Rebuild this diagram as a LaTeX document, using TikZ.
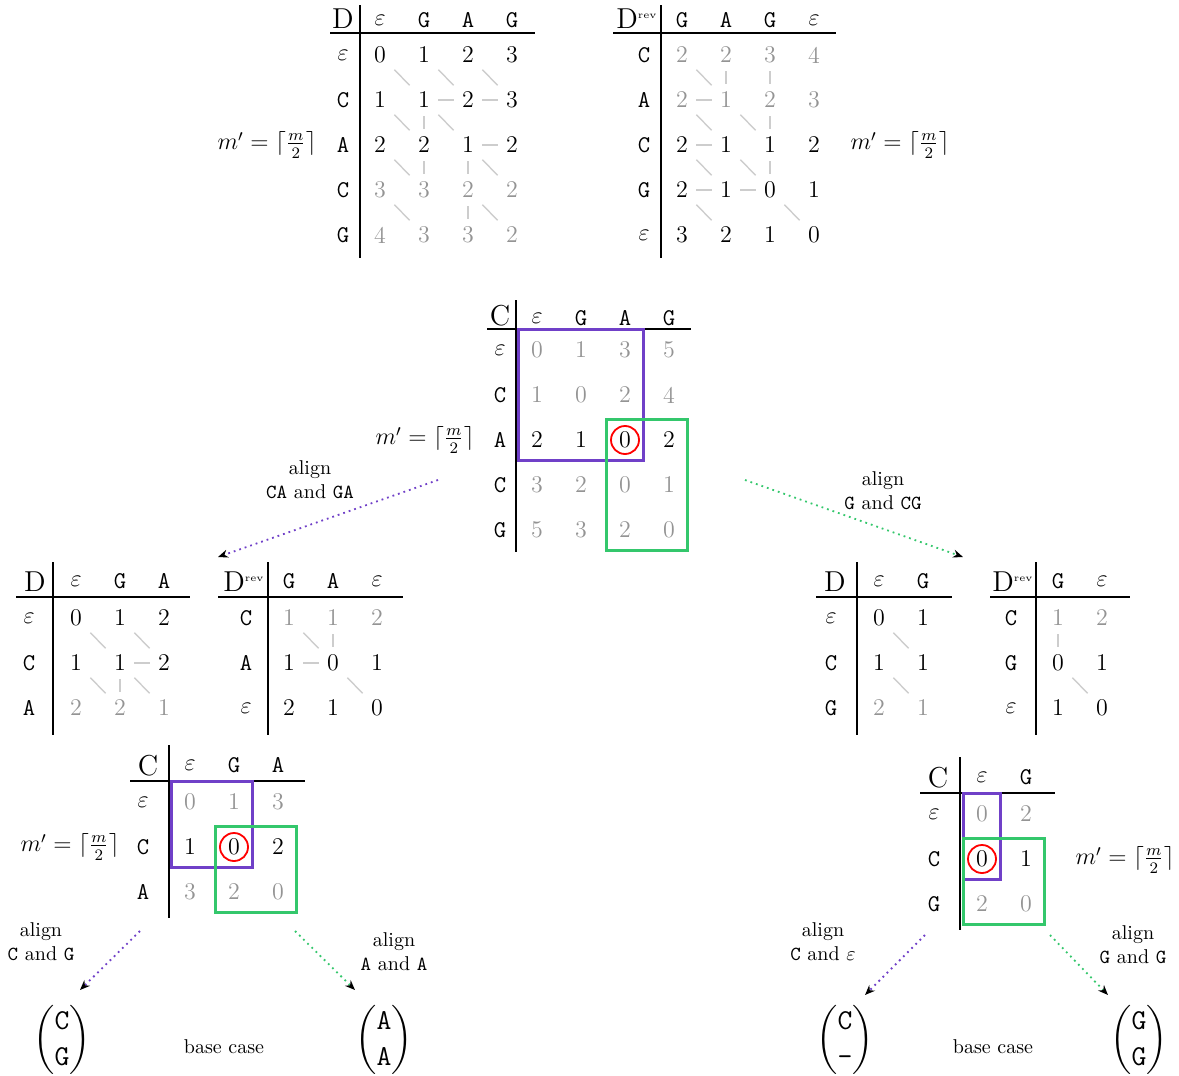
\documentclass[tikz,border=0pt]{standalone}
\usepackage{amsmath}
\usepackage{tikz}
\usetikzlibrary{arrows.meta,fit}
\definecolor{splitpurple}{RGB}{112,64,200}
\definecolor{splitgreen}{RGB}{52,199,108}
\definecolor{traceline}{RGB}{205,205,205}
\colorlet{faded}{black!42}

\begin{document}
\begin{tikzpicture}[x=0.5pt, y=-0.5pt,
    num/.style={font=\large, minimum width=14pt, minimum height=16pt, inner sep=0pt},
    hdr/.style={font=\large\ttfamily, inner sep=0pt},
    corner/.style={font=\Large, inner sep=0pt},
    mlabel/.style={font=\large, inner sep=0pt},
    rule/.style={line width=0.9pt},
    trace/.style={traceline, line width=0.7pt},
    upper/.style={draw=splitpurple, line width=1.4pt, inner sep=2pt},
    lower/.style={draw=splitgreen, line width=1.4pt, inner sep=2pt},
    pick/.style={draw=red, circle, line width=0.9pt, minimum size=14pt, inner sep=0pt},
    recurse/.style={dotted, line width=0.9pt, -{Stealth[black, length=5pt, width=4pt]}},
    note/.style={align=center, font=\normalsize},
    base/.style={font=\Large}]
    \useasboundingbox (0,0) rectangle (1179,1076);

    % forward table D
    \draw[rule] (360,5) -- (360,258);
    \draw[rule] (330,33) -- (535,33);
    \node[corner] (fd) at (343,19) {D};
    \foreach \h [count=\c] in {$\varepsilon$,G,A,G}
        \node[hdr] (fd-h\c) at ({380+44*(\c-1)},20) {\h};
    \foreach \h [count=\r] in {$\varepsilon$,C,A,C,G}
        \node[hdr] (fd-v\r) at (343,{55+45*(\r-1)}) {\h};
    \foreach \row [count=\r] in {{0,1,2,3},{1,1,2,3},{2,2,1,2},{3,3,2,2},{4,3,3,2}}
        \foreach \v [count=\c] in \row {
            \ifnum\r>3 \def\tone{faded}\else\def\tone{black}\fi
            \node[num, text=\tone] (fd-\r-\c) at ({380+44*(\c-1)},{55+45*(\r-1)}) {\v};
        }
    \foreach \a/\b in {1-1/2-2,1-2/2-3,1-3/2-4,2-2/2-3,2-3/2-4,2-1/3-2,2-2/3-2,2-2/3-3,
                       3-3/3-4,3-1/4-2,3-2/4-2,3-3/4-3,3-3/4-4,4-1/5-2,4-3/5-3,4-3/5-4}
        \draw[trace] (fd-\a) -- (fd-\b);
    \node[mlabel] (fd-m) at (267,145) {$m' = \lceil \frac{m}{2} \rceil$};

    % reverse table D^rev
    \draw[rule] (661,5) -- (661,258);
    \draw[rule] (613,33) -- (836,33);
    \node[corner] (rd) at (637,19) {D\textsuperscript{\tiny rev}};
    \foreach \h [count=\c] in {G,A,G,$\varepsilon$}
        \node[hdr] (rd-h\c) at ({682+44*(\c-1)},20) {\h};
    \foreach \h [count=\r] in {C,A,C,G,$\varepsilon$}
        \node[hdr] (rd-v\r) at (644,{55+45*(\r-1)}) {\h};
    \foreach \row [count=\r] in {{2,2,3,4},{2,1,2,3},{2,1,1,2},{2,1,0,1},{3,2,1,0}}
        \foreach \v [count=\c] in \row {
            \ifnum\r<3 \def\tone{faded}\else\def\tone{black}\fi
            \node[num, text=\tone] (rd-\r-\c) at ({682+44*(\c-1)},{55+45*(\r-1)}) {\v};
        }
    \foreach \a/\b in {1-1/2-2,1-2/2-2,1-3/2-3,2-1/2-2,2-1/3-2,2-2/3-3,2-3/3-3,3-1/3-2,
                       3-1/4-2,3-2/4-3,3-3/4-3,4-1/4-2,4-2/4-3,4-1/5-2,4-3/5-4}
        \draw[trace] (rd-\a) -- (rd-\b);
    \node[mlabel] (rd-m) at (900,145) {$m' = \lceil \frac{m}{2} \rceil$};

    % combined cost C
    \draw[rule] (516,300) -- (516,552);
    \draw[rule] (487,329) -- (691,329);
    \node[corner] (cc) at (500,316) {C};
    \foreach \h [count=\c] in {$\varepsilon$,G,A,G}
        \node[hdr] (cc-h\c) at ({537+44*(\c-1)},318) {\h};
    \foreach \h [count=\r] in {$\varepsilon$,C,A,C,G}
        \node[hdr] (cc-v\r) at (500,{350+45*(\r-1)}) {\h};
    \foreach \row [count=\r] in {{0,1,3,5},{1,0,2,4},{2,1,0,2},{3,2,0,1},{5,3,2,0}}
        \foreach \v [count=\c] in \row {
            \ifnum\r=3 \def\tone{black}\else\def\tone{faded}\fi
            \node[num, text=\tone] (cc-\r-\c) at ({537+44*(\c-1)},{350+45*(\r-1)}) {\v};
        }
    \node[upper, fit=(cc-1-1)(cc-3-3)] (cc-up) {};
    \node[lower, fit=(cc-3-3)(cc-5-4)] (cc-lo) {};
    \node[pick] (cc-pick) at (cc-3-3) {};
    \node[mlabel] (cc-m) at (425,440) {$m' = \lceil \frac{m}{2} \rceil$};

    \coordinate (cc-l) at (438,480);
    \coordinate (cc-r) at (745,480);
    \coordinate (sub-l) at (218,557);
    \coordinate (sub-r) at (963,557);
    \draw[recurse, splitpurple] (cc-l) -- (sub-l);
    \draw[recurse, splitgreen] (cc-r) -- (sub-r);
    \node[note] (al-l) at (310,480) {align\\\texttt{CA} and \texttt{GA}};
    \node[note] (al-r) at (883,491) {align\\\texttt{G} and \texttt{CG}};

    % left half: D
    \draw[rule] (53,562) -- (53,735);
    \draw[rule] (16,597) -- (190,597);
    \node[corner] (ld) at (35,582) {D};
    \foreach \h [count=\c] in {$\varepsilon$,G,A}
        \node[hdr] (ld-h\c) at ({76+44*(\c-1)},581) {\h};
    \foreach \h [count=\r] in {$\varepsilon$,C,A}
        \node[hdr] (ld-v\r) at (29,{618+45*(\r-1)}) {\h};
    \foreach \row [count=\r] in {{0,1,2},{1,1,2},{2,2,1}}
        \foreach \v [count=\c] in \row {
            \ifnum\r>2 \def\tone{faded}\else\def\tone{black}\fi
            \node[num, text=\tone] (ld-\r-\c) at ({76+44*(\c-1)},{618+45*(\r-1)}) {\v};
        }
    \foreach \a/\b in {1-1/2-2,1-2/2-3,2-2/2-3,2-1/3-2,2-2/3-2,2-2/3-3}
        \draw[trace] (ld-\a) -- (ld-\b);

    % left half: D^rev
    \draw[rule] (268,562) -- (268,735);
    \draw[rule] (218,597) -- (403,597);
    \node[corner] (lr) at (244,582) {D\textsuperscript{\tiny rev}};
    \foreach \h [count=\c] in {G,A,$\varepsilon$}
        \node[hdr] (lr-h\c) at ({289+44*(\c-1)},581) {\h};
    \foreach \h [count=\r] in {C,A,$\varepsilon$}
        \node[hdr] (lr-v\r) at (246,{618+45*(\r-1)}) {\h};
    \foreach \row [count=\r] in {{1,1,2},{1,0,1},{2,1,0}}
        \foreach \v [count=\c] in \row {
            \ifnum\r<2 \def\tone{faded}\else\def\tone{black}\fi
            \node[num, text=\tone] (lr-\r-\c) at ({289+44*(\c-1)},{618+45*(\r-1)}) {\v};
        }
    \foreach \a/\b in {1-1/2-2,1-2/2-2,2-1/2-2,2-2/3-3}
        \draw[trace] (lr-\a) -- (lr-\b);

    % right half: D
    \draw[rule] (857,562) -- (857,735);
    \draw[rule] (816,597) -- (952,597);
    \node[corner] (rgd) at (835,582) {D};
    \foreach \h [count=\c] in {$\varepsilon$,G}
        \node[hdr] (rgd-h\c) at ({879+44*(\c-1)},581) {\h};
    \foreach \h [count=\r] in {$\varepsilon$,C,G}
        \node[hdr] (rgd-v\r) at (831,{618+45*(\r-1)}) {\h};
    \foreach \row [count=\r] in {{0,1},{1,1},{2,1}}
        \foreach \v [count=\c] in \row {
            \ifnum\r>2 \def\tone{faded}\else\def\tone{black}\fi
            \node[num, text=\tone] (rgd-\r-\c) at ({879+44*(\c-1)},{618+45*(\r-1)}) {\v};
        }
    \foreach \a/\b in {1-1/2-2,2-1/3-2}
        \draw[trace] (rgd-\a) -- (rgd-\b);

    % right half: D^rev
    \draw[rule] (1036,562) -- (1036,735);
    \draw[rule] (990,597) -- (1130,597);
    \node[corner] (rgr) at (1013,582) {D\textsuperscript{\tiny rev}};
    \foreach \h [count=\c] in {G,$\varepsilon$}
        \node[hdr] (rgr-h\c) at ({1058+44*(\c-1)},581) {\h};
    \foreach \h [count=\r] in {C,G,$\varepsilon$}
        \node[hdr] (rgr-v\r) at (1011,{618+45*(\r-1)}) {\h};
    \foreach \row [count=\r] in {{1,2},{0,1},{1,0}}
        \foreach \v [count=\c] in \row {
            \ifnum\r<2 \def\tone{faded}\else\def\tone{black}\fi
            \node[num, text=\tone] (rgr-\r-\c) at ({1058+44*(\c-1)},{618+45*(\r-1)}) {\v};
        }
    \foreach \a/\b in {1-1/2-1,2-1/3-2}
        \draw[trace] (rgr-\a) -- (rgr-\b);

    % left half: C
    \draw[rule] (169,745) -- (169,918);
    \draw[rule] (130,781) -- (305,781);
    \node[corner] (lc) at (148,766) {C};
    \foreach \h [count=\c] in {$\varepsilon$,G,A}
        \node[hdr] (lc-h\c) at ({190+44*(\c-1)},765) {\h};
    \foreach \h [count=\r] in {$\varepsilon$,C,A}
        \node[hdr] (lc-v\r) at (143,{802+45*(\r-1)}) {\h};
    \foreach \row [count=\r] in {{0,1,3},{1,0,2},{3,2,0}}
        \foreach \v [count=\c] in \row {
            \ifnum\r=2 \def\tone{black}\else\def\tone{faded}\fi
            \node[num, text=\tone] (lc-\r-\c) at ({190+44*(\c-1)},{802+45*(\r-1)}) {\v};
        }
    \node[upper, fit=(lc-1-1)(lc-2-2)] (lc-up) {};
    \node[lower, fit=(lc-2-2)(lc-3-3)] (lc-lo) {};
    \node[pick] (lc-pick) at (lc-2-2) {};
    \node[mlabel] (lc-m) at (70,847) {$m' = \lceil \frac{m}{2} \rceil$};

    \coordinate (lc-l) at (140,931);
    \coordinate (lc-r) at (295,931);
    \coordinate (lb-l) at (80,990);
    \coordinate (lb-r) at (355,990);
    \draw[recurse, splitpurple] (lc-l) -- (lb-l);
    \draw[recurse, splitgreen] (lc-r) -- (lb-r);
    \node[note] (lal-l) at (41,942) {align\\\texttt{C} and \texttt{G}};
    \node[note] (lal-r) at (394,952) {align\\\texttt{A} and \texttt{A}};
    \node[base] (lpair-l) at (62,1040) {$\begin{pmatrix}\texttt{C}\\\texttt{G}\end{pmatrix}$};
    \node[note] (lbase) at (224,1047) {base case};
    \node[base] (lpair-r) at (384,1040) {$\begin{pmatrix}\texttt{A}\\\texttt{A}\end{pmatrix}$};

    % right half: C
    \draw[rule] (960,757) -- (960,930);
    \draw[rule] (920,793) -- (1055,793);
    \node[corner] (rc) at (938,778) {C};
    \foreach \h [count=\c] in {$\varepsilon$,G}
        \node[hdr] (rc-h\c) at ({982+44*(\c-1)},777) {\h};
    \foreach \h [count=\r] in {$\varepsilon$,C,G}
        \node[hdr] (rc-v\r) at (934,{814+45*(\r-1)}) {\h};
    \foreach \row [count=\r] in {{0,2},{0,1},{2,0}}
        \foreach \v [count=\c] in \row {
            \ifnum\r=2 \def\tone{black}\else\def\tone{faded}\fi
            \node[num, text=\tone] (rc-\r-\c) at ({982+44*(\c-1)},{814+45*(\r-1)}) {\v};
        }
    \node[upper, fit=(rc-1-1)(rc-2-1)] (rc-up) {};
    \node[lower, fit=(rc-2-1)(rc-3-2)] (rc-lo) {};
    \node[pick] (rc-pick) at (rc-2-1) {};
    \node[mlabel] (rc-m) at (1125,860) {$m' = \lceil \frac{m}{2} \rceil$};

    \coordinate (rc-l) at (925,935);
    \coordinate (rc-r) at (1050,935);
    \coordinate (rb-l) at (865,995);
    \coordinate (rb-r) at (1108,995);
    \draw[recurse, splitpurple] (rc-l) -- (rb-l);
    \draw[recurse, splitgreen] (rc-r) -- (rb-r);
    \node[note] (ral-l) at (823,942) {align\\\texttt{C} and $\varepsilon$};
    \node[note] (ral-r) at (1133,945) {align\\\texttt{G} and \texttt{G}};
    \node[base] (rpair-l) at (845,1040) {$\begin{pmatrix}\texttt{C}\\\texttt{-}\end{pmatrix}$};
    \node[note] (rbase) at (993,1047) {base case};
    \node[base] (rpair-r) at (1139,1040) {$\begin{pmatrix}\texttt{G}\\\texttt{G}\end{pmatrix}$};
\end{tikzpicture}
\end{document}
